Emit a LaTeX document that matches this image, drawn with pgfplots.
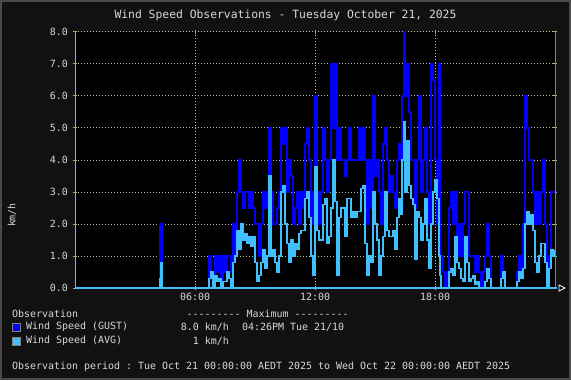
\documentclass[border=0pt]{standalone}
\usepackage{pgfplots}
\pgfplotsset{compat=1.18}
\usepackage{pgfplotstable}
\usepackage{fontspec}
\setmainfont{DejaVu Sans Mono}
\setmonofont{DejaVu Sans Mono}
\renewcommand{\familydefault}{\ttdefault}
\definecolor{bgout}{HTML}{111111}
\definecolor{framec}{HTML}{4A4A4A}
\definecolor{gridc}{HTML}{B0C8A0}
\definecolor{axc}{HTML}{98B878}
\definecolor{rightc}{HTML}{8C8C40}
\definecolor{txt}{HTML}{D8D8D8}
\definecolor{gust}{HTML}{0000FF}
\definecolor{avg}{HTML}{40BFFF}
\pgfplotstableread{
h v
0 0
4.25 2.0
4.35 0
6.7 1.0
6.8 0.5
6.9 0
7.0 1.0
7.1 0.5
7.2 1.0
7.3 0
7.4 1.0
7.5 0.5
7.6 1.0
7.7 1.0
7.8 0.5
7.9 2.0
8.0 1.0
8.1 3.0
8.2 4.0
8.3 3.0
8.4 2.5
8.5 3.0
8.6 3.0
8.7 2.5
8.8 3.0
8.9 2.5
9.0 2.0
9.1 2.0
9.2 1.0
9.3 2.0
9.4 3.0
9.5 2.5
9.6 3.0
9.7 5.0
9.8 3.0
9.9 2.0
10.0 2.0
10.1 2.5
10.2 3.0
10.3 5.0
10.4 4.5
10.5 5.0
10.6 3.0
10.7 4.0
10.8 3.5
10.9 2.0
11.0 2.5
11.1 3.0
11.2 2.0
11.3 3.0
11.4 2.5
11.5 4.5
11.6 5.0
11.7 4.0
11.8 2.0
11.9 3.0
12.0 6.0
12.1 3.0
12.2 2.0
12.3 3.0
12.4 5.0
12.5 4.0
12.6 3.0
12.7 4.0
12.8 7.0
12.9 5.0
13.0 7.0
13.1 4.0
13.2 5.0
13.3 4.0
13.4 4.0
13.5 3.5
13.6 4.0
13.7 5.0
13.8 4.0
13.9 4.0
14.0 4.0
14.1 4.0
14.2 5.0
14.3 4.0
14.4 5.0
14.5 4.0
14.6 2.0
14.7 4.0
14.8 2.5
14.9 6.0
15.0 3.5
15.1 4.0
15.2 3.0
15.3 2.0
15.4 4.5
15.5 5.0
15.6 4.0
15.7 3.0
15.8 3.5
15.9 3.0
16.0 2.5
16.1 4.0
16.2 4.5
16.3 4.0
16.35 6.0
16.45 8.0
16.5 6.0
16.6 7.0
16.7 5.5
16.8 4.0
16.9 4.0
17.0 2.5
17.1 4.0
17.2 6.0
17.3 3.0
17.4 4.0
17.5 5.0
17.6 3.0
17.7 2.0
17.8 7.0
17.9 6.5
18.0 4.0
18.1 2.0
18.2 7.0
18.25 1.0
18.4 0.5
18.5 0
18.6 0.5
18.7 2.5
18.8 3.0
18.9 2.0
19.0 3.0
19.1 1.0
19.2 2.0
19.3 1.0
19.4 2.0
19.5 3.0
19.6 3.0
19.7 1.0
19.8 1.0
19.9 1.0
20.0 0.5
20.1 1.0
20.2 0.5
20.3 0
20.4 0.5
20.5 1.0
20.6 2.0
20.7 1.0
20.8 0
21.3 1.0
21.4 0.5
21.5 0
22.1 0.5
22.2 1.0
22.3 0.5
22.4 2.0
22.5 6.0
22.6 5.0
22.7 4.0
22.8 4.0
22.9 3.0
23.0 2.0
23.1 3.0
23.2 2.0
23.3 3.0
23.4 4.0
23.5 2.0
23.6 0.5
23.7 1.0
23.8 3.0
23.9 3.0
24 3.0
}\gusttable
\pgfplotstableread{
h v
0 0
4.25 0.3
4.3 0.8
4.35 0
6.7 0.3
6.8 0.5
6.9 0
7.0 0.4
7.1 0.2
7.2 0.3
7.3 0
7.4 0.2
7.5 0.2
7.6 0.5
7.7 0.3
7.8 0
7.9 0.8
8.0 1.0
8.1 1.8
8.2 1.2
8.3 2.0
8.4 1.5
8.5 1.7
8.6 1.4
8.7 1.6
8.8 1.3
8.9 1.6
9.0 0.8
9.1 0.2
9.2 0.4
9.3 0.8
9.4 1.2
9.5 0.6
9.6 1.0
9.7 3.5
9.8 1.0
9.9 1.2
10.0 0.8
10.1 0.5
10.2 1.0
10.3 3.0
10.4 3.2
10.5 2.0
10.6 1.4
10.7 0.8
10.8 1.5
10.9 1.0
11.0 1.4
11.1 1.2
11.2 1.7
11.3 1.8
11.4 1.8
11.5 2.8
11.6 3.0
11.7 2.2
11.8 1.0
11.9 0.4
12.0 3.8
12.1 1.8
12.2 1.5
12.3 1.5
12.4 2.6
12.5 2.8
12.6 1.4
12.7 1.6
12.8 2.5
12.9 4.0
13.0 2.7
13.1 0.4
13.2 2.2
13.3 2.5
13.4 2.5
13.5 1.6
13.6 2.8
13.7 2.8
13.8 2.2
13.9 2.4
14.0 2.2
14.1 2.4
14.2 2.4
14.3 3.1
14.4 3.2
14.5 1.4
14.6 0.4
14.7 1.0
14.8 0.8
14.9 3.0
15.0 2.0
15.1 1.5
15.2 0.4
15.3 1.0
15.4 1.6
15.5 3.0
15.6 1.8
15.7 1.6
15.8 1.6
15.9 1.8
16.0 1.2
16.1 2.2
16.2 2.8
16.3 2.3
16.35 4.0
16.45 5.2
16.5 3.0
16.6 4.6
16.7 3.2
16.8 2.8
16.9 2.6
17.0 0.9
17.1 2.4
17.2 2.2
17.3 1.5
17.4 2.0
17.5 2.8
17.6 1.5
17.7 0.6
17.8 2.0
17.9 3.0
18.0 3.4
18.1 2.8
18.2 1.0
18.25 0.4
18.3 0
18.7 0.5
18.8 0.6
18.9 0.4
19.0 1.6
19.1 0.8
19.2 0.6
19.3 0.3
19.4 0.2
19.5 1.6
19.6 0.8
19.7 0.2
19.8 0.3
19.9 0.4
20.0 0.1
20.1 0.2
20.2 0
20.5 0.2
20.6 0.6
20.7 0.3
20.8 0
21.3 0.3
21.4 0.5
21.5 0
22.1 0.2
22.2 0.5
22.3 0.3
22.4 0.6
22.5 2.0
22.6 2.4
22.7 2.0
22.8 2.3
22.9 1.8
23.0 0.8
23.1 0.5
23.2 1.0
23.3 1.4
23.4 1.4
23.5 0.8
23.6 0
23.7 0.6
23.8 1.2
23.9 1.0
24 1.2
}\avgtable
\begin{document}
\begin{tikzpicture}[x=1bp,y=1bp]
\useasboundingbox (0,0) rectangle (571,380);
\fill[bgout] (0,0) rectangle (571,380);
\draw[framec, line width=2bp] (1,1) rectangle (570,379);
\begin{axis}[
  at={(75bp,92bp)}, anchor=south west,
  scale only axis, width=480bp, height=256bp,
  xmin=0, xmax=24, ymin=0, ymax=8,
  clip=false,
  axis background/.style={fill=black},
  axis line style={draw=none},
  grid=major,
  major grid style={gridc, line width=1bp, dash pattern=on 1bp off 2bp},
  xtick={6,12,18}, xticklabels={06:00,12:00,18:00},
  ytick={0,1,2,3,4,5,6,7,8},
  yticklabels={0.0,1.0,2.0,3.0,4.0,5.0,6.0,7.0,8.0},
  /pgf/number format/assume math mode=true,
  tick align=center, major tick length=4bp,
  tick style={axc, line width=1bp},
  ticklabel style={txt, font=\ttfamily\fontsize{10}{12}\selectfont, inner sep=0pt},
  yticklabel style={xshift=-5bp},
  xticklabel style={yshift=-3bp},
]
\addplot[const plot, draw=gust, line width=1.6bp] table[x=h, y=v] {\gusttable};
\addplot[const plot, draw=avg, line width=1.3bp] table[x=h, y=v] {\avgtable};
\end{axis}
% axis frame lines
\draw[axc, line width=1bp] (75.5,92) -- (75.5,348);
\draw[rightc, line width=1bp] (555.5,92) -- (555.5,348);
\draw[avg, line width=1.5bp] (75,92) -- (557,92);
\draw[white, line width=0.8bp] (559,95) -- (565,92) -- (559,89) -- cycle;
% texts
\begin{scope}[every node/.style={txt, inner sep=0pt, font=\ttfamily\fontsize{10}{12}\selectfont}]
\node[font=\ttfamily\fontsize{11.4}{13}\selectfont] at (285.5,364.5) {Wind Speed Observations - Tuesday October 21, 2025};
\node[rotate=90] at (12,165) {km/h};
\node[anchor=west] at (12,66) {Observation};
\node[anchor=west] at (186.5,66) {-{}-{}-{}-{}-{}-{}-{}-{}- Maximum -{}-{}-{}-{}-{}-{}-{}-{}-};
\node[anchor=west] at (26,53) {Wind Speed (GUST)};
\node[anchor=east] at (229,53) {8.0 km/h};
\node[anchor=west] at (242,53) {04:26PM Tue 21/10};
\node[anchor=west] at (26,39) {Wind Speed (AVG)};
\node[anchor=east] at (229,39) {1 km/h};
\node[anchor=west] at (12,13.5) {Observation period : Tue Oct 21 00:00:00 AEDT 2025 to Wed Oct 22 00:00:00 AEDT 2025};
\end{scope}
\draw[fill=gust, draw=gray, line width=1bp] (12.5,48.5) rectangle (20.5,56.5);
\draw[fill=avg, draw=gray, line width=1bp] (12.5,34.5) rectangle (20.5,42.5);
\end{tikzpicture}
\end{document}
